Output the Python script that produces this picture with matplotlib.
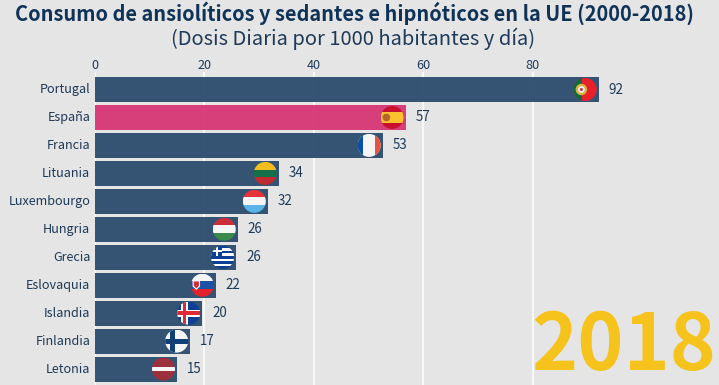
import matplotlib
matplotlib.use('Agg')
import matplotlib.pyplot as plt
import numpy as np
from matplotlib.patches import Circle, Rectangle, Polygon
from matplotlib.transforms import Affine2D

plt.rcParams['font.family'] = ['Noto Sans CJK SC', 'DejaVu Sans']

paises = ['Portugal', 'España', 'Francia', 'Lituania', 'Luxembourgo', 'Hungria',
          'Grecia', 'Eslovaquia', 'Islandia', 'Finlandia', 'Letonia']
valores = [92.1, 56.8, 52.6, 33.6, 31.6, 26.1, 25.8, 22.1, 19.6, 17.4, 15.0]
ticks = [0, 20, 40, 60, 80]
anio = '2018'

fondo = '#e5e5e5'
azul = '#2f4f6f'
rosa = '#d63a76'
texto = '#1d3a58'
oscuro = '#0f3357'

fig = plt.figure(figsize=(7.19, 3.85), dpi=100, facecolor=fondo)
ax = fig.add_axes([95/719, 0, 624/719, 313/385], facecolor=fondo)

colores = [rosa if p == 'España' else azul for p in paises]
ax.barh(range(len(paises)), valores, height=0.895, color=colores, alpha=0.97, zorder=2)
ax.set_xlim(0, 114.1)
ax.set_ylim(10.57, -0.626)
ax.xaxis.tick_top()
ax.set_xticks(ticks)
ax.set_yticks(range(len(paises)))
ax.set_yticklabels(paises, va='center')
ax.tick_params(length=0, labelsize=9.1, labelcolor=texto, pad=3.5)
ax.tick_params(axis='x', pad=0)
ax.grid(axis='x', color='white', lw=1.1, zorder=1)
for s in ax.spines.values():
    s.set_visible(False)

for i, v in enumerate(valores):
    ax.annotate(str(round(v)), (v, i), xytext=(7.2, 0), textcoords='offset points',
                va='center', ha='left', fontsize=9.6, color=texto, zorder=4)

fig.text(0.4925, 0.966, 'Consumo de ansiolíticos y sedantes e hipnóticos en la UE (2000-2018)',
         ha='center', va='center', fontsize=14.4, fontweight='bold', color=oscuro)
fig.text(0.4915, 0.899, '(Dosis Diaria por 1000 habitantes y día)',
         ha='center', va='center', fontsize=14.5, color=texto)
fig.text(0.9965, 0.039, anio, ha='right', va='baseline', fontsize=56.4, fontweight='bold',
         color='#f5c31c', zorder=5)


# bandas horizontales dentro de un circulo unidad
def bandas(cols):
    edges = np.linspace(1, -1, len(cols) + 1)
    return [Rectangle((-1, edges[k+1]), 2, edges[k] - edges[k+1], fc=c) for k, c in enumerate(cols)]


def cruz(base, ancho, centro):
    return [Rectangle((-1, -1), 2, 2, fc=base),
            Rectangle((-1, -ancho/2), 2, ancho, fc=centro),
            Rectangle((-0.35 - ancho/2, -1), ancho, 2, fc=centro)]


def portugal():
    return [Rectangle((-1, -1), 2, 2, fc='#e8202a'), Rectangle((-1, -1), 0.68, 2, fc='#0b6b3a'),
            Circle((-0.33, 0), 0.5, fc='#d8b23a'), Circle((-0.33, 0), 0.3, fc='#eeeeee'),
            Circle((-0.33, 0), 0.13, fc='#c8323a')]


def espana():
    return [Rectangle((-1, -1), 2, 2, fc='#c8102e'), Rectangle((-1, -0.5), 2, 1, fc='#fbc02d'),
            Circle((-0.5, 0), 0.33, fc='#b5652a')]


def francia():
    return [Rectangle((-1, -1), 2, 2, fc='#f4f4f4'), Rectangle((-1, -1), 0.45, 2, fc='#0a4fa6'),
            Rectangle((0.55, -1), 0.45, 2, fc='#e8523f')]


def grecia():
    out = bandas(['#0d3f94', 'white'] * 4 + ['#0d3f94'])
    out += [Rectangle((-1, 0.1), 0.95, 0.9, fc='#0d3f94'),
            Rectangle((-1, 0.46), 0.95, 0.18, fc='white'),
            Rectangle((-0.56, 0.1), 0.16, 0.9, fc='white')]
    return out


def eslovaquia():
    out = bandas(['#f4f4f4', '#1c52a5', '#e3222c'])
    out += [Polygon([(-0.85, 0.42), (-0.2, 0.42), (-0.2, -0.1), (-0.52, -0.42), (-0.85, -0.1)],
                    fc='white'),
            Polygon([(-0.75, 0.33), (-0.3, 0.33), (-0.3, -0.05), (-0.52, -0.28), (-0.75, -0.05)],
                    fc='#dd2a36')]
    return out


def islandia():
    return (cruz('#0e3f94', 0.62, 'white') +
            [Rectangle((-1, -0.15), 2, 0.3, fc='#dc2a36'),
             Rectangle((-0.5, -1), 0.3, 2, fc='#dc2a36')])


banderas = {
    'Portugal': portugal,
    'España': espana,
    'Francia': francia,
    'Lituania': lambda: bandas(['#f4bd1f', '#13704a', '#bf2a2e']),
    'Luxembourgo': lambda: bandas(['#e8323a', '#f5f5f5', '#5ab4ea']),
    'Hungria': lambda: bandas(['#cc2f3c', '#f5f5f5', '#3a8a4c']),
    'Grecia': grecia,
    'Eslovaquia': eslovaquia,
    'Islandia': islandia,
    'Finlandia': lambda: cruz('#f5f5f5', 0.42, '#103f78'),
    'Letonia': lambda: [Rectangle((-1, -1), 2, 2, fc='#9e2f3c'), Rectangle((-1, -0.2), 2, 0.4, fc='#f5f5f5')],
}

fig.canvas.draw()
for i, (p, v) in enumerate(zip(paises, valores)):
    px, py = ax.transData.transform((v, i))
    tr = Affine2D().scale(11.5).translate(px - 13.5, py)
    disco = Circle((0, 0), 1, transform=tr, fc='none', ec='none')
    ax.add_patch(disco)
    for a in banderas[p]():
        a.set_transform(tr)
        a.set_linewidth(0)
        a.set_zorder(3)
        ax.add_artist(a)
        a.set_clip_path(disco)

fig.savefig('out.png', dpi=100, facecolor=fondo)
